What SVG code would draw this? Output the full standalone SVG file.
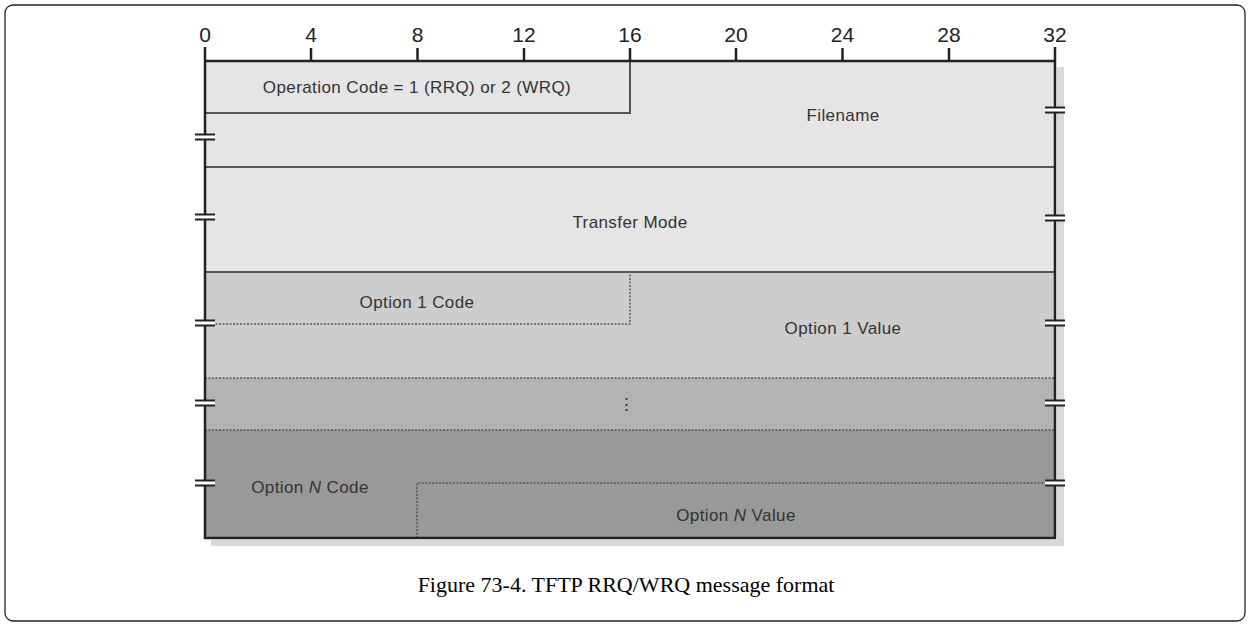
<svg xmlns="http://www.w3.org/2000/svg" width="1252" height="627" viewBox="0 0 1252 627">
<style>
.lbl{font-family:"Liberation Sans",Arial,sans-serif;font-size:17px;letter-spacing:0.4px;fill:#333;text-anchor:middle}
.num{font-family:"Liberation Sans",Arial,sans-serif;font-size:21px;fill:#222;text-anchor:middle}
.cap{font-family:"Liberation Serif","Times New Roman",serif;font-size:22px;fill:#000;text-anchor:middle}
.solid{stroke:#555;stroke-width:2;fill:none}
.dot{stroke:#555;stroke-width:1.5;stroke-dasharray:2 1.5;fill:none}
.frame{stroke:#222;stroke-width:2.5;fill:none}
.brk{stroke:#222;stroke-width:2}
</style>
<defs>
<g id="brk">
<rect x="-10" y="-2.5" width="20" height="5" fill="#fff"/>
<line class="brk" x1="-10" y1="-2.5" x2="10" y2="-2.5"/>
<line class="brk" x1="-10" y1="2.5" x2="10" y2="2.5"/>
</g>
</defs>
<rect x="0" y="0" width="1252" height="627" fill="#fff"/>
<rect x="5" y="5" width="1240" height="616" rx="8" fill="none" stroke="#222" stroke-width="1.3"/>
<rect x="1057" y="67" width="7" height="478" fill="#d9d9d9"/>
<rect x="211" y="540" width="853" height="6" fill="#d9d9d9"/>
<g id="rows">
<rect x="205" y="61" width="850" height="211" fill="#e5e5e5"/>
<rect x="205" y="272" width="850" height="106" fill="#cdcdcd"/>
<rect x="205" y="378" width="850" height="52" fill="#b3b3b3"/>
<rect x="205" y="430" width="850" height="108" fill="#999"/>
</g>
<g id="connectors">
<path class="solid" d="M205 113 H630 V61"/>
<line class="solid" x1="205" y1="167" x2="1055" y2="167"/>
<line class="solid" x1="205" y1="272" x2="1055" y2="272"/>
<path class="dot" d="M205 324 H630 V272"/>
<line class="dot" x1="205" y1="378" x2="1055" y2="378"/>
<line class="dot" x1="205" y1="430" x2="1055" y2="430"/>
<path class="dot" d="M417 538 V483 H1055"/>
<path class="frame" d="M205 47 V538 H1055 V47"/>
<line class="frame" x1="205" y1="61" x2="1055" y2="61"/>
<g stroke="#222" stroke-width="2.5">
<line x1="311" y1="48" x2="311" y2="61"/>
<line x1="417.5" y1="48" x2="417.5" y2="61"/>
<line x1="524" y1="48" x2="524" y2="61"/>
<line x1="630" y1="48" x2="630" y2="61"/>
<line x1="736" y1="48" x2="736" y2="61"/>
<line x1="842.5" y1="48" x2="842.5" y2="61"/>
<line x1="949" y1="48" x2="949" y2="61"/>
</g>
<use href="#brk" x="205" y="137"/>
<use href="#brk" x="205" y="217"/>
<use href="#brk" x="205" y="323"/>
<use href="#brk" x="205" y="403"/>
<use href="#brk" x="205" y="483"/>
<use href="#brk" x="1055" y="110"/>
<use href="#brk" x="1055" y="218"/>
<use href="#brk" x="1055" y="323"/>
<use href="#brk" x="1055" y="403"/>
<use href="#brk" x="1055" y="483"/>
</g>
<g id="scale">
<text class="num" x="205" y="42">0</text>
<text class="num" x="311" y="42">4</text>
<text class="num" x="417.5" y="42">8</text>
<text class="num" x="524" y="42">12</text>
<text class="num" x="630" y="42">16</text>
<text class="num" x="736" y="42">20</text>
<text class="num" x="842.5" y="42">24</text>
<text class="num" x="949" y="42">28</text>
<text class="num" x="1055" y="42">32</text>
</g>
<g id="opcode"><text class="lbl" x="417" y="93">Operation Code = 1 (RRQ) or 2 (WRQ)</text></g>
<g id="filename"><text class="lbl" x="843" y="121">Filename</text></g>
<g id="mode"><text class="lbl" x="630" y="228">Transfer Mode</text></g>
<g id="opt1code"><text class="lbl" x="417" y="308">Option 1 Code</text></g>
<g id="opt1val"><text class="lbl" x="843" y="334">Option 1 Value</text></g>
<g id="ellipsis"><text class="lbl" x="627" y="410" font-size="20">⋮</text></g>
<g id="optNcode"><text class="lbl" x="310" y="493">Option <tspan font-style="italic">N</tspan> Code</text></g>
<g id="optNval"><text class="lbl" x="736" y="521">Option <tspan font-style="italic">N</tspan> Value</text></g>
<text class="cap" x="626" y="592">Figure 73-4. TFTP RRQ/WRQ message format</text>
</svg>
